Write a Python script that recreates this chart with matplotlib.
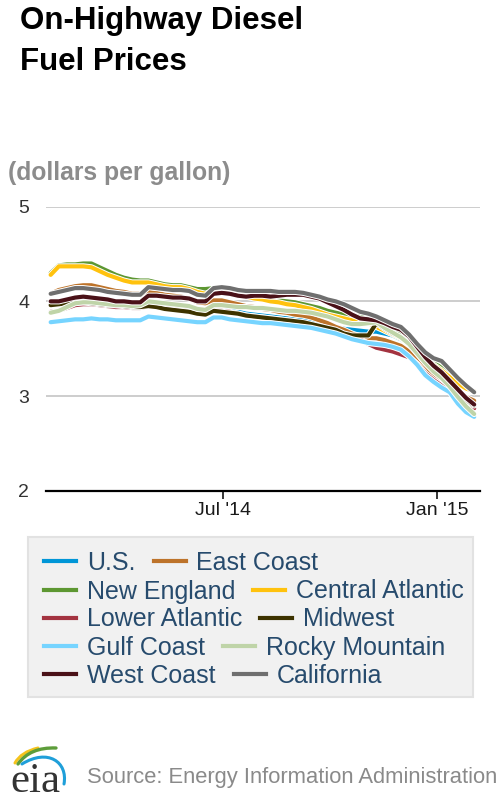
import matplotlib
matplotlib.use("Agg")
import matplotlib.pyplot as plt
import matplotlib.patheffects as pe
from matplotlib.lines import Line2D
from matplotlib.patches import Rectangle, PathPatch
from matplotlib.path import Path
import pandas as pd
import numpy as np

plt.rcParams['font.family'] = ['Liberation Sans', 'DejaVu Sans']

# ---------------- data ----------------
dates = pd.date_range("2014-02-03", periods=53, freq="7D")

us = [3.97, 3.99, 4.01, 4.02, 4.02, 4.01, 4.00, 3.99, 3.98, 3.97, 3.96, 3.96, 3.98, 3.97, 3.96, 3.95, 3.94, 3.93,
      3.90, 3.89, 3.92, 3.92, 3.91, 3.89, 3.87, 3.86, 3.85, 3.84, 3.83, 3.82, 3.81, 3.80, 3.78, 3.76, 3.74, 3.73,
      3.71, 3.70, 3.69, 3.68, 3.68, 3.66, 3.64, 3.60, 3.55, 3.48, 3.37, 3.30, 3.23, 3.17, 3.07, 2.96, 2.88]
east_coast = [4.08, 4.12, 4.14, 4.16, 4.17, 4.17, 4.15, 4.13, 4.11, 4.10, 4.08, 4.08, 4.10, 4.09, 4.07, 4.06, 4.05,
              4.03, 3.99, 3.98, 4.01, 4.01, 3.99, 3.97, 3.95, 3.94, 3.92, 3.91, 3.89, 3.88, 3.86, 3.85, 3.83, 3.80,
              3.77, 3.73, 3.70, 3.66, 3.63, 3.61, 3.61, 3.59, 3.56, 3.53, 3.47, 3.39, 3.30, 3.23, 3.18, 3.11, 3.04,
              2.99, 2.95]
new_england = [4.30, 4.38, 4.39, 4.39, 4.40, 4.40, 4.36, 4.32, 4.28, 4.25, 4.23, 4.22, 4.22, 4.20, 4.18, 4.17, 4.17,
               4.15, 4.13, 4.13, 4.14, 4.14, 4.12, 4.10, 4.08, 4.07, 4.05, 4.03, 4.01, 4.00, 3.99, 3.97, 3.95, 3.93,
               3.90, 3.88, 3.86, 3.85, 3.84, 3.82, 3.78, 3.73, 3.69, 3.65, 3.60, 3.51, 3.43, 3.35, 3.30, 3.24, 3.16,
               3.09, 3.04]
central_atlantic = [4.28, 4.37, 4.37, 4.37, 4.37, 4.36, 4.32, 4.28, 4.25, 4.22, 4.20, 4.20, 4.20, 4.18, 4.16, 4.15,
                    4.15, 4.13, 4.10, 4.08, 4.11, 4.11, 4.10, 4.07, 4.05, 4.03, 4.02, 4.00, 3.99, 3.97, 3.96, 3.94,
                    3.92, 3.89, 3.86, 3.84, 3.82, 3.80, 3.78, 3.77, 3.73, 3.69, 3.65, 3.61, 3.55, 3.48, 3.40, 3.33,
                    3.27, 3.20, 3.13, 3.08, 3.05]
lower_atlantic = [3.89, 3.90, 3.93, 3.96, 3.97, 3.97, 3.96, 3.95, 3.94, 3.94, 3.93, 3.93, 3.95, 3.94, 3.93, 3.92,
                  3.91, 3.90, 3.88, 3.87, 3.90, 3.90, 3.89, 3.87, 3.85, 3.84, 3.83, 3.82, 3.81, 3.80, 3.79, 3.77,
                  3.75, 3.73, 3.71, 3.69, 3.65, 3.62, 3.60, 3.55, 3.51, 3.49, 3.47, 3.44, 3.41, 3.34, 3.24, 3.17,
                  3.11, 3.05, 2.99, 2.92, 2.87]
midwest = [3.96, 3.97, 3.98, 3.99, 3.99, 3.98, 3.97, 3.96, 3.96, 3.95, 3.94, 3.94, 3.95, 3.94, 3.92, 3.91, 3.90,
           3.89, 3.87, 3.86, 3.90, 3.89, 3.88, 3.87, 3.85, 3.84, 3.83, 3.82, 3.81, 3.80, 3.79, 3.78, 3.76, 3.74,
           3.72, 3.70, 3.66, 3.64, 3.64, 3.64, 3.77, 3.71, 3.66, 3.62, 3.55, 3.45, 3.35, 3.27, 3.21, 3.12, 3.03,
           2.96, 2.90]
gulf_coast = [3.78, 3.79, 3.80, 3.81, 3.81, 3.82, 3.81, 3.81, 3.80, 3.80, 3.80, 3.80, 3.84, 3.83, 3.82, 3.81, 3.80,
              3.79, 3.78, 3.78, 3.83, 3.83, 3.81, 3.80, 3.79, 3.78, 3.77, 3.77, 3.76, 3.75, 3.74, 3.73, 3.72, 3.70,
              3.68, 3.66, 3.63, 3.60, 3.58, 3.56, 3.55, 3.54, 3.52, 3.49, 3.42, 3.33, 3.22, 3.15, 3.09, 3.04, 2.92,
              2.83, 2.78]
rocky_mountain = [3.88, 3.90, 3.94, 3.98, 3.99, 3.99, 3.98, 3.97, 3.96, 3.96, 3.95, 3.96, 4.00, 3.99, 3.98, 3.97,
                  3.96, 3.95, 3.92, 3.91, 3.96, 3.96, 3.95, 3.94, 3.94, 3.93, 3.93, 3.92, 3.91, 3.90, 3.90, 3.89,
                  3.88, 3.86, 3.84, 3.81, 3.78, 3.76, 3.76, 3.77, 3.78, 3.72, 3.67, 3.62, 3.55, 3.45, 3.35, 3.26,
                  3.19, 3.10, 2.99, 2.89, 2.81]
west_coast = [4.00, 4.00, 4.02, 4.04, 4.05, 4.04, 4.03, 4.02, 4.00, 4.00, 3.99, 3.99, 4.06, 4.06, 4.05, 4.04, 4.04,
              4.03, 4.00, 4.00, 4.08, 4.09, 4.08, 4.06, 4.05, 4.06, 4.06, 4.05, 4.06, 4.07, 4.07, 4.07, 4.05, 4.03,
              3.99, 3.95, 3.91, 3.86, 3.82, 3.81, 3.80, 3.77, 3.73, 3.70, 3.63, 3.52, 3.41, 3.32, 3.25, 3.16, 3.07,
              2.98, 2.91]
california = [4.08, 4.10, 4.12, 4.14, 4.14, 4.13, 4.12, 4.10, 4.09, 4.08, 4.07, 4.07, 4.15, 4.14, 4.13, 4.12, 4.12,
              4.11, 4.07, 4.06, 4.14, 4.15, 4.14, 4.12, 4.11, 4.11, 4.11, 4.11, 4.10, 4.10, 4.10, 4.09, 4.07, 4.05,
              4.02, 4.00, 3.97, 3.93, 3.89, 3.87, 3.84, 3.80, 3.76, 3.73, 3.65, 3.55, 3.46, 3.40, 3.37, 3.28, 3.19,
              3.11, 3.04]

series_names = ["U.S.", "East Coast", "New England", "Central Atlantic", "Lower Atlantic",
                "Midwest", "Gulf Coast", "Rocky Mountain", "West Coast", "California"]
series_values = [us, east_coast, new_england, central_atlantic, lower_atlantic,
                 midwest, gulf_coast, rocky_mountain, west_coast, california]
series_colors = ["#0096d7", "#bd732a", "#5d9732", "#ffc20e", "#a33340",
                 "#3d3300", "#76d4ff", "#bfd4a8", "#4a1118", "#6f6f6f"]

yticks = [2, 3, 4, 5]
xtick_dates = pd.to_datetime(["2014-07-01", "2015-01-01"])
xtick_labels = ["Jul '14", "Jan '15"]

# ---------------- figure ----------------
W, H = 500, 800
fig = plt.figure(figsize=(W / 100, H / 100), dpi=100)

def fx(px):
    return px / W

def fy(py):
    return 1 - py / H

ax_left, ax_right, ax_top, ax_bottom = 46, 480, 206.7, 490.7
ax = fig.add_axes([fx(ax_left), fy(ax_bottom), fx(ax_right - ax_left), (ax_bottom - ax_top) / H])

for name, vals, col in zip(series_names, series_values, series_colors):
    ax.plot(dates, vals, color=col, lw=3.0, solid_joinstyle="round", solid_capstyle="round",
            path_effects=[pe.Stroke(linewidth=4.4, foreground="white"), pe.Normal()], zorder=3)

ax.set_ylim(2, 5)
ax.set_xlim(pd.Timestamp("2014-01-30"), pd.Timestamp("2015-02-07"))
ax.set_yticks(yticks)
ax.set_yticklabels([str(t) for t in yticks])
ax.set_xticks(xtick_dates)
ax.set_xticklabels(xtick_labels)

for t in yticks[1:]:
    ax.axhline(t, color="#c0c0c0", lw=1.1, zorder=1)

for s in ["top", "right", "left"]:
    ax.spines[s].set_visible(False)
ax.spines["bottom"].set_linewidth(1.6)
ax.spines["bottom"].set_color("black")
ax.spines["bottom"].set_zorder(4)

ax.tick_params(axis="y", length=0, pad=12, labelsize=14, labelcolor="#333333")
ax.tick_params(axis="x", direction="out", length=6, width=1.1, color="black",
               pad=2, labelsize=14, labelcolor="#1a1a1a")

# ---------------- titles ----------------
fig.text(fx(20), fy(29), "On-Highway Diesel", fontsize=22.5, fontweight="bold",
         color="black", ha="left", va="baseline")
fig.text(fx(20), fy(70), "Fuel Prices", fontsize=22.5, fontweight="bold",
         color="black", ha="left", va="baseline")
fig.text(fx(8), fy(180), "(dollars per gallon)", fontsize=17.8, fontweight="bold",
         color="#8c8c8c", ha="left", va="baseline")

# ---------------- legend ----------------
fig.patches.append(Rectangle((fx(28), fy(697)), fx(473 - 28), (697 - 537) / H,
                             transform=fig.transFigure, facecolor="#f1f1f1",
                             edgecolor="#e2e2e2", lw=1.5, zorder=0))
row_y = [563, 591.5, 619.5, 647.7, 675.7]
for r in range(5):
    handles = []
    labels = []
    for k in range(2):
        idx = 2 * r + k
        handles.append(Line2D([], [], color=series_colors[idx], lw=3.0))
        labels.append(series_names[idx])
    leg = fig.legend(handles, labels, ncol=2, loc="center left",
                     bbox_to_anchor=(fx(44), fy(row_y[r])), bbox_transform=fig.transFigure,
                     frameon=False, borderpad=0, borderaxespad=0,
                     handlelength=1.28, handletextpad=0.44, columnspacing=0.72,
                     prop={"size": 18})
    for txt in leg.get_texts():
        txt.set_color("#274b6d")

# ---------------- logo + source ----------------
lax = fig.add_axes([0, 0, fx(120), 70 / H])
lax.set_xlim(0, 120)
lax.set_ylim(800, 730)
lax.axis("off")
lax.text(10, 792, "eia", fontsize=31, family=["Liberation Serif", "DejaVu Serif"],
         color="#333333", ha="left", va="baseline")
arc_specs = [
    ([(15, 763), (21, 752), (38, 748)], "#f5c31c", 2.2),
    ([(18, 764), (30, 747), (56, 748)], "#5d9d3a", 2.4),
    ([(22, 764), (48, 748), (68, 762), (64, 784)], "#1f9fd9", 2.2),
]
for pts, col, lw in arc_specs:
    codes = [Path.MOVETO] + ([Path.CURVE3] * 2 if len(pts) == 3 else [Path.CURVE4] * 3)
    lax.add_patch(PathPatch(Path(pts, codes), facecolor="none", edgecolor=col, lw=lw,
                            capstyle="round"))

fig.text(fx(87), fy(783), "Source: Energy Information Administration", fontsize=15.8,
         color="#8a8a8a", ha="left", va="baseline")

fig.savefig("out.png", dpi=100)
